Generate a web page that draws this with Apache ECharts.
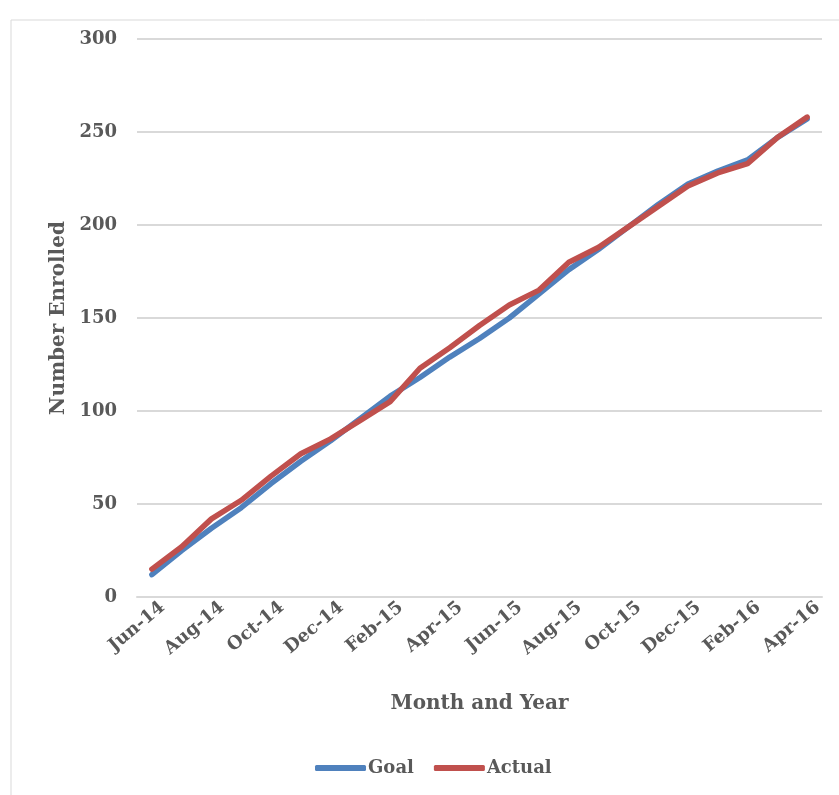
<!DOCTYPE html>
<html>
<head>
<meta charset="utf-8">
<script src="https://cdn.jsdelivr.net/npm/echarts@6/dist/echarts.min.js"></script>
<style>
html,body{margin:0;padding:0;background:#fff;}
#c{width:839px;height:795px;}
</style>
</head>
<body>
<div id="c"></div>
<script>
const categories = ["Jun-14","Jul-14","Aug-14","Sep-14","Oct-14","Nov-14","Dec-14","Jan-15","Feb-15","Mar-15","Apr-15","May-15","Jun-15","Jul-15","Aug-15","Sep-15","Oct-15","Nov-15","Dec-15","Jan-16","Feb-16","Mar-16","Apr-16"];
const goal =   [12, 25, 37, 48, 61, 73, 84, 96, 108, 118, 129, 139, 150, 163, 176, 187, 199, 211, 222, 229, 235, 247, 257];
const actual = [15, 27, 42, 52, 65, 77, 85, 95, 105, 123, 134, 146, 157, 165, 180, 188, 199, 210, 221, 228, 233, 247, 258];
const yTicks = [0, 50, 100, 150, 200, 250, 300];

const FONT = "'DejaVu Serif', 'Liberation Serif', serif";
const TXT = '#595959';
const chart = echarts.init(document.getElementById('c'), null, {renderer: 'canvas'});
chart.setOption({
  backgroundColor: '#fff',
  animation: false,
  graphic: [{
    type: 'rect', shape: {x: 11, y: 20, width: 900, height: 900},
    style: {fill: 'none', stroke: '#d9d9d9', lineWidth: 1}, z: -1
  }],
  grid: {left: 137, right: 17, top: 39, bottom: 198},
  legend: {
    bottom: 13, left: 310,
    itemWidth: 51, itemHeight: 6, itemGap: 20,
    icon: 'roundRect',
    textStyle: {fontFamily: FONT, fontWeight: 'bold', fontSize: 18, color: TXT, padding: [0,0,0,-3]},
    data: ['Goal', 'Actual']
  },
  xAxis: {
    type: 'category', data: categories, boundaryGap: true,
    name: 'Month and Year', nameLocation: 'middle', nameGap: 97,
    nameTextStyle: {fontFamily: FONT, fontWeight: 'bold', fontSize: 20, color: TXT},
    axisLine: {show: true, lineStyle: {color: '#d9d9d9', width: 2}},
    axisTick: {show: false},
    axisLabel: {interval: 1, rotate: 40, margin: 17, padding: [0, -14, 0, 0], fontFamily: FONT, fontWeight: 'bold', fontSize: 18, color: TXT}
  },
  yAxis: {
    type: 'value', min: yTicks[0], max: yTicks[yTicks.length-1], interval: 50,
    name: 'Number Enrolled', nameLocation: 'middle', nameGap: 68, nameRotate: 90,
    nameTextStyle: {fontFamily: FONT, fontWeight: 'bold', fontSize: 20, color: TXT},
    axisLine: {show: false}, axisTick: {show: false},
    axisLabel: {margin: 20, fontFamily: FONT, fontWeight: 'bold', fontSize: 18, color: TXT},
    splitLine: {lineStyle: {color: '#d9d9d9', width: 2}}
  },
  series: [
    {name: 'Goal', type: 'line', data: goal, showSymbol: false, symbol: 'none',
     lineStyle: {color: '#4F81BD', width: 5.5, cap: 'round', join: 'round'}, itemStyle: {color: '#4F81BD'}, z: 2},
    {name: 'Actual', type: 'line', data: actual, showSymbol: false, symbol: 'none',
     lineStyle: {color: '#C0504D', width: 5.5, cap: 'round', join: 'round'}, itemStyle: {color: '#C0504D'}, z: 3}
  ]
});
</script>
</body>
</html>
